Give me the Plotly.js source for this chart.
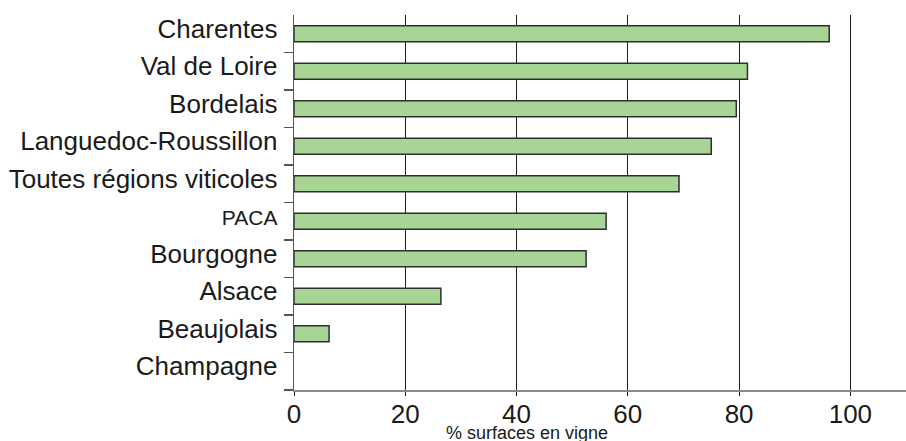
<!DOCTYPE html>
<html>
<head>
<meta charset="utf-8">
<script src="https://cdn.plot.ly/plotly-3.0.1.min.js"></script>
<style>html,body{margin:0;padding:0;background:#fff;}#chart{width:906px;height:441px;}</style>
</head>
<body>
<div id="chart"></div>
<script>
const regions = ["Charentes","Val de Loire","Bordelais","Languedoc-Roussillon","Toutes régions viticoles","PACA","Bourgogne","Alsace","Beaujolais","Champagne"];
const values = [96.2, 81.5, 79.5, 75.0, 69.2, 56.1, 52.5, 26.4, 6.3, 0];
const xTickValues = [0, 20, 40, 60, 80, 100];
const xTitle = "% surfaces en vigne";

const tickText = regions.map(r => r === "PACA" ? '<span style="font-size:21px">PACA</span>' : r);

const trace = {
  type: 'bar',
  orientation: 'h',
  y: regions,
  x: values,
  width: 0.43,
  marker: {color: '#a6d596', line: {color: '#2e2e2e', width: values.map(v => v > 0 ? 1.5 : 0)}},
  hoverinfo: 'none'
};

const layout = {
  width: 906, height: 441,
  margin: {l: 294, r: 0, t: 15, b: 51, pad: 0},
  paper_bgcolor: '#fff', plot_bgcolor: '#fff',
  font: {family: '"Liberation Sans", Arial, sans-serif', color: '#1a1a1a'},
  showlegend: false,
  xaxis: {
    range: [0, 110],
    tickvals: xTickValues,
    ticktext: xTickValues.map(String),
    showgrid: true, gridcolor: '#1e1e1e', gridwidth: 1,
    zeroline: false,
    showline: true, linecolor: '#8a8a8a', linewidth: 2,
    ticks: 'outside', ticklen: 4, tickcolor: '#1e1e1e', tickwidth: 1,
    ticklabelstandoff: -4,
    tickfont: {size: 26, color: '#1a1a1a'},
    fixedrange: true
  },
  yaxis: {
    type: 'category',
    categoryorder: 'array', categoryarray: regions.slice().reverse(),
    tickvals: regions, ticktext: tickText,
    range: [-0.5, 9.5],
    showgrid: false, zeroline: false,
    showline: true, linecolor: '#555', linewidth: 1.3,
    ticks: 'outside', ticklen: 9, tickcolor: '#555', tickwidth: 1.3,
    tickson: 'boundaries',
    ticklabelstandoff: 10,
    ticklabelshift: -5,
    tickfont: {size: 26, color: '#1a1a1a'},
    fixedrange: true
  },
  annotations: [{
    text: xTitle, xref: 'x', yref: 'paper', x: 41.9, y: 0, yshift: -43,
    xanchor: 'center', yanchor: 'middle', showarrow: false,
    font: {size: 18, color: '#1a1a1a'}
  }]
};

Plotly.newPlot('chart', [trace], layout, {displayModeBar: false, staticPlot: true});
</script>
</body>
</html>
